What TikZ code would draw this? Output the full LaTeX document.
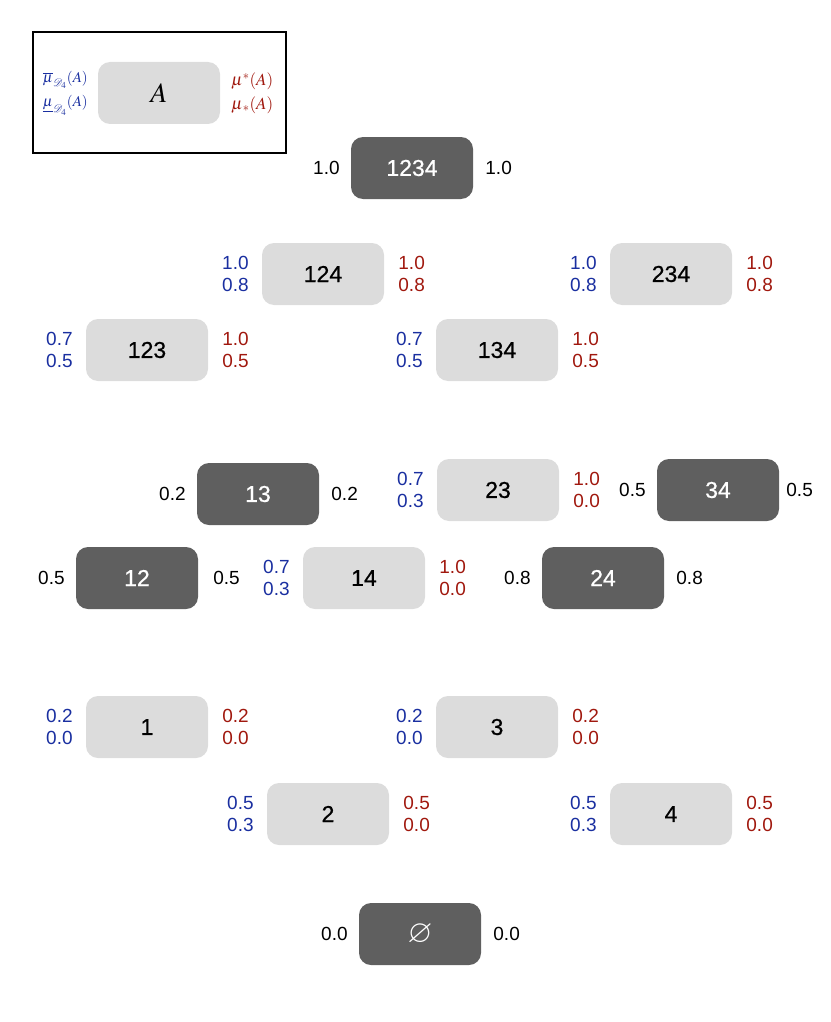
\documentclass[tikz,border=0pt]{standalone}
\usepackage{mathptmx}
\usepackage[no-math]{fontspec}
\usepackage{amssymb}
\usepackage{mathrsfs}
\newfontfamily\hvf{Liberation Sans}
\newfontfamily\hvm[FakeBold=0.7]{Liberation Sans}
\usetikzlibrary{positioning}
\definecolor{lgrey}{HTML}{DCDCDC}
\definecolor{dgrey}{HTML}{5F5F5F}
\definecolor{vblue}{HTML}{1A2FA0}
\definecolor{vred}{HTML}{A0180E}
\tikzset{
  lbox/.style={fill=lgrey, rounded corners=12pt, minimum width=122pt, minimum height=62pt, inner sep=0pt, font=\hvm\fontsize{23}{27}\selectfont, text=black},
  dbox/.style={lbox, fill=dgrey, text=white},
  valtxt/.style={inner sep=0pt, font=\hvf\fontsize{19}{22}\selectfont},
  lv/.style={valtxt, align=right, text=vblue},
  rv/.style={valtxt, align=left, text=vred},
  kv/.style={valtxt, text=black},
  legb/.style={inner sep=0pt, text=vblue, font=\fontsize{15}{18}\selectfont, anchor=east},
  legr/.style={inner sep=0pt, text=vred, font=\fontsize{17}{20}\selectfont, anchor=west},
}
\begin{document}
\begin{tikzpicture}[x=1pt,y=-1pt]
\useasboundingbox (0,0) rectangle (830,1022);
% legend
\draw[line width=1.2pt] (33,32) rectangle (286,153);
\node[lbox, font=\fontsize{28}{32}\selectfont] (leg) at (159,93) {$A$};
\node[legb] (legb1) at (88,80) {$\overline{\mu}_{\mathscr{D}_4}(A)$};
\node[legb] (legb2) at (88,105) {$\underline{\mu}_{\mathscr{D}_4}(A)$};
\node[legr] (legr1) at (231,81) {$\mu^{*}(A)$};
\node[legr] (legr2) at (231,105) {$\mu_{\mkern2mu*}(A)$};
% nodes
\node[dbox] (n1234) at (412,168) {1234};
\node[lbox] (n124) at (323,274) {124};
\node[lbox] (n234) at (671,274) {234};
\node[lbox] (n123) at (147,350) {123};
\node[lbox] (n134) at (497,350) {134};
\node[dbox] (n13) at (258,494) {13};
\node[lbox] (n23) at (498,490) {23};
\node[dbox] (n34) at (718,490) {34};
\node[dbox] (n12) at (137,578) {12};
\node[lbox] (n14) at (364,578) {14};
\node[dbox] (n24) at (603,578) {24};
\node[lbox] (n1) at (147,727) {1};
\node[lbox] (n3) at (497,727) {3};
\node[lbox] (n2) at (328,814) {2};
\node[lbox] (n4) at (671,814) {4};
\node[dbox, font=\fontsize{32}{36}\selectfont] (n0) at (420,934) {$\varnothing$};
% values
\node[kv, left=11pt of n1234] (v1234l) {1.0};
\node[kv, right=12pt of n1234] (v1234r) {1.0};
\node[lv, left=13pt of n124] (v124l) {1.0\\0.8};
\node[rv, right=14pt of n124] (v124r) {1.0\\0.8};
\node[lv, left=13pt of n234] (v234l) {1.0\\0.8};
\node[rv, right=14pt of n234] (v234r) {1.0\\0.8};
\node[lv, left=13pt of n123] (v123l) {0.7\\0.5};
\node[rv, right=14pt of n123] (v123r) {1.0\\0.5};
\node[lv, left=13pt of n134] (v134l) {0.7\\0.5};
\node[rv, right=14pt of n134] (v134r) {1.0\\0.5};
\node[kv, left=11pt of n13] (v13l) {0.2};
\node[kv, right=12pt of n13] (v13r) {0.2};
\node[lv, left=13pt of n23] (v23l) {0.7\\0.3};
\node[rv, right=14pt of n23] (v23r) {1.0\\0.0};
\node[kv, left=11pt of n34] (v34l) {0.5};
\node[kv, right=7pt of n34] (v34r) {0.5};
\node[kv, left=11pt of n12] (v12l) {0.5};
\node[kv, right=15pt of n12] (v12r) {0.5};
\node[lv, left=13pt of n14] (v14l) {0.7\\0.3};
\node[rv, right=14pt of n14] (v14r) {1.0\\0.0};
\node[kv, left=11pt of n24] (v24l) {0.8};
\node[kv, right=12pt of n24] (v24r) {0.8};
\node[lv, left=13pt of n1] (v1l) {0.2\\0.0};
\node[rv, right=14pt of n1] (v1r) {0.2\\0.0};
\node[lv, left=13pt of n3] (v3l) {0.2\\0.0};
\node[rv, right=14pt of n3] (v3r) {0.2\\0.0};
\node[lv, left=13pt of n2] (v2l) {0.5\\0.3};
\node[rv, right=14pt of n2] (v2r) {0.5\\0.0};
\node[lv, left=13pt of n4] (v4l) {0.5\\0.3};
\node[rv, right=14pt of n4] (v4r) {0.5\\0.0};
\node[kv, left=11pt of n0] (v0l) {0.0};
\node[kv, right=12pt of n0] (v0r) {0.0};
\end{tikzpicture}
\end{document}
